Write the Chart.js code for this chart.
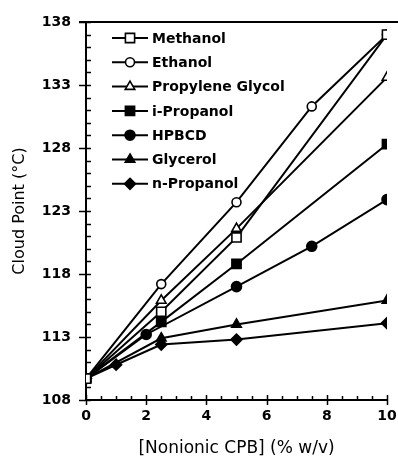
<!DOCTYPE html>
<html>
<head>
<meta charset="utf-8">
<script src="https://cdn.jsdelivr.net/npm/chart.js@4.4.1/dist/chart.umd.min.js"></script>
<style>
  html, body { margin: 0; padding: 0; background: #fff; }
  #wrap { width: 398px; height: 472px; }
</style>
</head>
<body>
<div id="wrap"><canvas id="chart"></canvas></div>
<script>
// values (cloud point in °C vs % w/v)
const methanolX = [0, 2.5, 5, 10];
const methanolY = [109.7, 115.0, 120.9, 137.0];
const ethanolX = [0, 2.5, 5, 7.5, 10];
const ethanolY = [109.7, 117.2, 123.7, 131.3, 137.0];
const propGlycolX = [0, 2.5, 5, 10];
const propGlycolY = [109.7, 115.9, 121.6, 133.6];
const iPropanolX = [0, 2.5, 5, 10];
const iPropanolY = [109.7, 114.2, 118.8, 128.3];
const hpbcdX = [0, 2, 5, 7.5, 10];
const hpbcdY = [109.7, 113.2, 117.0, 120.2, 123.9];
const glycerolX = [0, 2.5, 5, 10];
const glycerolY = [109.7, 112.9, 114.0, 115.9];
const nPropanolX = [0, 1, 2.5, 5, 10];
const nPropanolY = [109.7, 110.8, 112.4, 112.8, 114.1];

const xTitle = '[Nonionic CPB] (% w/v)';
const yTitle = 'Cloud Point (°C)';
const xMin = 0, xMax = 10, xStep = 2, xMinor = 0.5;
const yMin = 108, yMax = 138, yStep = 5, yMinor = 1;

Chart.defaults.font.family = "'DejaVu Sans', sans-serif";
Chart.defaults.color = '#000';

function pts(xs, ys) {
  return xs.map((x, i) => ({ x: x, y: ys[i] }));
}

function series(label, xs, ys, style, filled, radius) {
  return {
    label: label,
    data: pts(xs, ys),
    borderColor: '#000',
    borderWidth: 2,
    pointStyle: style,
    pointRadius: radius,
    pointBorderWidth: 1.6,
    pointBorderColor: '#000',
    pointBackgroundColor: filled ? '#000' : '#fff',
    tension: 0,
  };
}

const datasets = [
  series('Methanol', methanolX, methanolY, 'rect', false, 6.5),
  series('Ethanol', ethanolX, ethanolY, 'circle', false, 4.5),
  series('Propylene Glycol', propGlycolX, propGlycolY, 'triangle', false, 5.5),
  series('i-Propanol', iPropanolX, iPropanolY, 'rect', true, 6.5),
  series('HPBCD', hpbcdX, hpbcdY, 'circle', true, 5),
  series('Glycerol', glycerolX, glycerolY, 'triangle', true, 5.5),
  series('n-Propanol', nPropanolX, nPropanolY, 'rectRot', true, 5.5),
];

// axis lines with ticks crossing them, plus the top frame line
const axisFrame = {
  id: 'axisFrame',
  beforeDatasetsDraw(chart) {
    const { ctx, chartArea: a, scales: { x, y } } = chart;
    ctx.save();
    ctx.strokeStyle = '#000';
    ctx.lineWidth = 2;
    ctx.beginPath();
    ctx.moveTo(a.left, a.top);
    ctx.lineTo(a.left, a.bottom);
    ctx.lineTo(a.right + 1, a.bottom);
    ctx.moveTo(a.left - 7, a.top);
    ctx.lineTo(chart.width, a.top);
    ctx.stroke();

    ctx.lineWidth = 1.5;
    ctx.beginPath();
    for (let v = yMin; v <= yMax; v += yMinor) {
      const py = Math.round(y.getPixelForValue(v)) + 0.5;
      if ((v - yMin) % yStep === 0) {
        ctx.moveTo(a.left - 7, py);
        ctx.lineTo(a.left + 5, py);
      } else {
        ctx.moveTo(a.left, py);
        ctx.lineTo(a.left + 5, py);
      }
    }
    for (let v = xMin; v <= xMax + 1e-9; v += xMinor) {
      const px = Math.round(x.getPixelForValue(v)) + 0.5;
      if (Math.abs(v % xStep) < 1e-9) {
        ctx.moveTo(px, a.bottom - 5);
        ctx.lineTo(px, a.bottom + 5);
      } else {
        ctx.moveTo(px, a.bottom - 4);
        ctx.lineTo(px, a.bottom);
      }
    }
    ctx.stroke();
    ctx.restore();
  },
};

// legend drawn inside the plot, top left
const insideLegend = {
  id: 'insideLegend',
  afterDraw(chart) {
    const { ctx, chartArea: a } = chart;
    ctx.save();
    ctx.font = "bold 14px 'DejaVu Sans'";
    ctx.textBaseline = 'middle';
    ctx.fillStyle = '#000';
    chart.data.datasets.forEach((ds, i) => {
      const cy = a.top + 16 + i * 24.3;
      const x0 = a.left + 26, x1 = a.left + 62;
      ctx.strokeStyle = '#000';
      ctx.lineWidth = 2;
      ctx.beginPath();
      ctx.moveTo(x0, cy);
      ctx.lineTo(x1, cy);
      ctx.stroke();
      ctx.fillStyle = ds.pointBackgroundColor;
      ctx.lineWidth = ds.pointBorderWidth;
      Chart.helpers.drawPoint(ctx, {
        pointStyle: ds.pointStyle,
        radius: ds.pointRadius,
        rotation: 0,
        borderWidth: ds.pointBorderWidth,
      }, (x0 + x1) / 2, cy);
      ctx.fillStyle = '#000';
      ctx.fillText(ds.label, x1 + 4, cy + 1);
    });
    ctx.restore();
  },
};

new Chart(document.getElementById('chart'), {
  type: 'line',
  data: { datasets: datasets },
  options: {
    responsive: true,
    maintainAspectRatio: false,
    animation: false,
    layout: { padding: { top: 22, right: 11, left: 0, bottom: 0 } },
    plugins: {
      legend: { display: false },
      tooltip: { enabled: false },
    },
    scales: {
      x: {
        type: 'linear',
        min: xMin,
        max: xMax,
        grid: { display: false, drawTicks: false },
        border: { display: false },
        ticks: { stepSize: xStep, padding: 8, font: { size: 14, weight: 'bold' } },
        title: { display: true, text: xTitle, font: { size: 17 }, padding: { bottom: 13 } },
        afterFit: (s) => { s.height = 72; s.paddingLeft = 0; s.paddingRight = 0; },
      },
      y: {
        min: yMin,
        max: yMax,
        grid: { display: false, drawTicks: false },
        border: { display: false },
        ticks: { stepSize: yStep, padding: 15, font: { size: 14, weight: 'bold' } },
        title: { display: true, text: yTitle, font: { size: 16 }, padding: { top: 10 } },
        afterFit: (s) => { s.width = 86; s.paddingTop = 0; s.paddingBottom = 0; },
      },
    },
  },
  plugins: [axisFrame, insideLegend],
});
</script>
</body>
</html>
